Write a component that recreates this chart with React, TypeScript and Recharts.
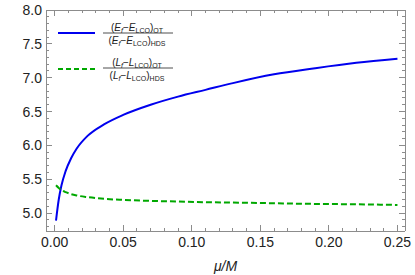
import React from "react";
import { LineChart, Line, XAxis, YAxis } from "recharts";

const muValues = [0.001, 0.003, 0.005, 0.008, 0.012, 0.016, 0.024, 0.036, 0.05, 0.07, 0.09, 0.11, 0.13, 0.16, 0.19, 0.22, 0.25];
const energyRatio = [4.89, 5.2, 5.41, 5.62, 5.81, 5.95, 6.14, 6.31, 6.45, 6.6, 6.72, 6.82, 6.92, 7.05, 7.14, 7.22, 7.28];
const momentumRatio = [5.41, 5.37, 5.34, 5.31, 5.28, 5.26, 5.235, 5.21, 5.195, 5.18, 5.17, 5.16, 5.155, 5.145, 5.135, 5.13, 5.12];

const xMajorTicks = [0, 0.05, 0.1, 0.15, 0.2, 0.25];
const yMajorTicks = [5.0, 5.5, 6.0, 6.5, 7.0, 7.5, 8.0];

const xDomain = [-0.0063, 0.2555];
const yDomain = [4.735, 8.0];

const data = muValues.map((mu, i) => ({ mu, e: energyRatio[i], l: momentumRatio[i] }));

// minor ticks every 0.01 (x) and 0.1 (y)
const minorTicks = (from: number, to: number, step: number) => {
  const out: number[] = [];
  for (let v = from; v <= to + 1e-9; v += step) out.push(Math.round(v * 1000) / 1000);
  return out;
};
const xTicks = minorTicks(0, 0.25, 0.01);
const yTicks = minorTicks(4.8, 8.0, 0.1);

const isMajor = (v: number, majors: number[]) => majors.some((m) => Math.abs(m - v) < 1e-6);

const AXIS = "#8c8c8c";
const TICK = "#8c8c8c";
const LABEL = "#222";
const FONT = "Liberation Sans, Arial, sans-serif";

const BottomTick = ({ x, y, payload }: any) => {
  const major = isMajor(payload.value, xMajorTicks);
  return (
    <g>
      <path d={`M${x},${y}V${y - (major ? 6 : 3)}`} stroke={TICK} strokeWidth={1} fill="none" shapeRendering="crispEdges" />
      {major && (
        <text x={x} y={y + 16} textAnchor="middle" fontSize={14} fill={LABEL} fontFamily={FONT}>
          {payload.value.toFixed(2)}
        </text>
      )}
    </g>
  );
};

const TopTick = ({ x, y, payload }: any) => {
  const major = isMajor(payload.value, xMajorTicks);
  return <path d={`M${x},${y}V${y + (major ? 6 : 3)}`} stroke={TICK} strokeWidth={1} fill="none" shapeRendering="crispEdges" />;
};

const LeftTick = ({ x, y, payload }: any) => {
  const major = isMajor(payload.value, yMajorTicks);
  return (
    <g>
      <path d={`M${x},${y}H${x + (major ? 6 : 3)}`} stroke={TICK} strokeWidth={1} fill="none" shapeRendering="crispEdges" />
      {major && (
        <text x={x - 4} y={y} dy="0.36em" textAnchor="end" fontSize={14} fill={LABEL} fontFamily={FONT}>
          {payload.value.toFixed(1)}
        </text>
      )}
    </g>
  );
};

const RightTick = ({ x, y, payload }: any) => {
  const major = isMajor(payload.value, yMajorTicks);
  return <path d={`M${x},${y}H${x - (major ? 6 : 3)}`} stroke={TICK} strokeWidth={1} fill="none" shapeRendering="crispEdges" />;
};

const Fraction = ({ top, sym, bottom, sub }: { top: number; sym: string; bottom: string; sub: string }) => (
  <g fontFamily={FONT} fontSize={10} fill={LABEL}>
    <text x={80} y={top} textAnchor="middle">
      (<tspan fontStyle="italic">{sym}</tspan>
      <tspan fontStyle="italic" fontSize={7} dy={2}>f</tspan>
      <tspan dy={-2}>−</tspan>
      <tspan fontStyle="italic">{sym}</tspan>
      <tspan fontSize={7} dy={2}>LCO</tspan>
      <tspan dy={-2}>)</tspan>
      <tspan fontSize={7} dy={2}>{sub}</tspan>
    </text>
    <line x1={46} x2={116} y1={top + 2} y2={top + 2} stroke={LABEL} strokeWidth={0.8} />
    <text x={80} y={top + 13} textAnchor="middle">
      (<tspan fontStyle="italic">{sym}</tspan>
      <tspan fontStyle="italic" fontSize={7} dy={2}>f</tspan>
      <tspan dy={-2}>−</tspan>
      <tspan fontStyle="italic">{sym}</tspan>
      <tspan fontSize={7} dy={2}>LCO</tspan>
      <tspan dy={-2}>)</tspan>
      <tspan fontSize={7} dy={2}>{bottom}</tspan>
    </text>
  </g>
);

const LegendBox = () => (
  <svg width={130} height={70} style={{ position: "absolute", left: 57, top: 18 }}>
    <line x1={1} x2={38} y1={15} y2={15} stroke="#0000ee" strokeWidth={2} />
    <Fraction top={13} sym="E" sub="OT" bottom="HDS" />
    <line x1={1} x2={38} y1={51} y2={51} stroke="#00a800" strokeWidth={2} strokeDasharray="5 3" />
    <Fraction top={48} sym="L" sub="OT" bottom="HDS" />
  </svg>
);

const frameLine = { stroke: AXIS, strokeWidth: 1, shapeRendering: "crispEdges" };

export default function App() {
  return (
    <div style={{ position: "absolute", left: 0, top: 0, width: 415, height: 275, background: "#fff" }}>
      <LineChart width={415} height={275} data={data} margin={{ top: 9, right: 9, bottom: 0, left: 0 }}>
        <XAxis
          dataKey="mu"
          type="number"
          domain={xDomain}
          allowDataOverflow
          ticks={xTicks}
          interval={0}
          height={44}
          tickSize={0}
          tickMargin={0}
          tickLine={false}
          axisLine={frameLine}
          tick={<BottomTick />}
          label={{ value: "μ/M", position: "insideBottom", offset: 4, fontSize: 14, fontStyle: "italic", fill: LABEL, fontFamily: FONT }}
        />
        <XAxis
          xAxisId="top"
          dataKey="mu"
          type="number"
          orientation="top"
          domain={xDomain}
          allowDataOverflow
          ticks={xTicks}
          interval={0}
          height={1}
          tickSize={0}
          tickMargin={0}
          tickLine={false}
          axisLine={frameLine}
          tick={<TopTick />}
        />
        <YAxis
          type="number"
          domain={yDomain}
          allowDataOverflow
          ticks={yTicks}
          interval={0}
          width={46}
          tickSize={0}
          tickMargin={0}
          tickLine={false}
          axisLine={frameLine}
          tick={<LeftTick />}
        />
        <YAxis
          yAxisId="right"
          type="number"
          orientation="right"
          domain={yDomain}
          allowDataOverflow
          ticks={yTicks}
          interval={0}
          width={1}
          tickSize={0}
          tickMargin={0}
          tickLine={false}
          axisLine={frameLine}
          tick={<RightTick />}
        />
        {/* invisible series so the frame axes on top/right get drawn */}
        <Line
          xAxisId="top"
          yAxisId="right"
          dataKey="e"
          stroke="none"
          dot={false}
          activeDot={false}
          legendType="none"
          isAnimationActive={false}
        />
        <Line type="monotone" dataKey="e" stroke="#0000ee" strokeWidth={2} dot={false} isAnimationActive={false} />
        <Line
          type="monotone"
          dataKey="l"
          stroke="#00a800"
          strokeWidth={2}
          strokeDasharray="6 3"
          dot={false}
          isAnimationActive={false}
        />
      </LineChart>
      <LegendBox />
    </div>
  );
}
